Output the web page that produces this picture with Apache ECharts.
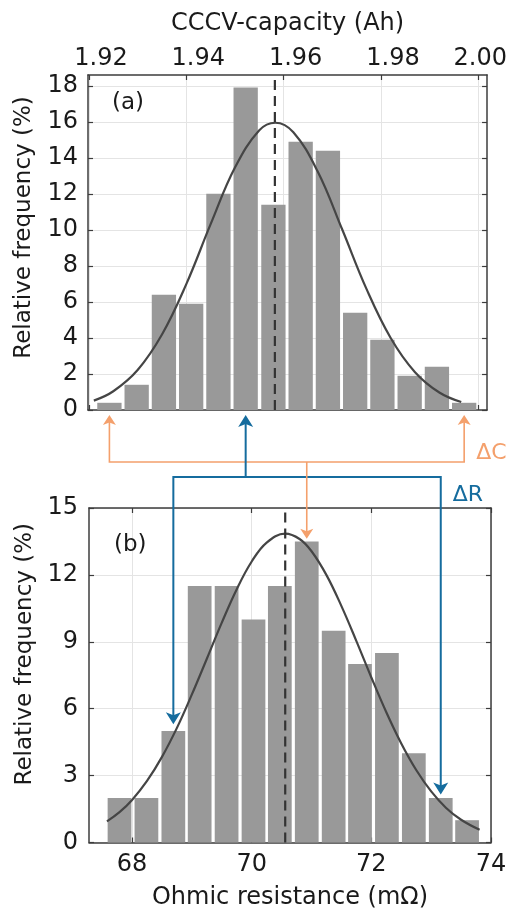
<!DOCTYPE html>
<html><head><meta charset="utf-8">
<script src="https://cdn.jsdelivr.net/npm/echarts@6/dist/echarts.min.js"></script>
<style>html,body{margin:0;padding:0;background:#fff}#c{width:510px;height:911px}</style>
</head><body><div id="c"></div>
<script>
// ---- panel (a): CCCV capacity ----
const capBinCenters = [1.9242, 1.9298, 1.9354, 1.9410, 1.9466, 1.9522, 1.9579, 1.9635, 1.9691, 1.9747, 1.9803, 1.9859, 1.9915, 1.9971];
const capFreq = [0.4, 1.4, 6.4, 5.9, 12.0, 17.9, 11.4, 14.9, 14.4, 5.4, 3.9, 1.9, 2.4, 0.4];
const capBinWidth = 0.00561;
const capFitX = [1.921, 1.925, 1.930, 1.935, 1.940, 1.945, 1.950, 1.955, 1.9583, 1.962, 1.967, 1.972, 1.977, 1.982, 1.987, 1.992, 1.9965];
const capFitY = [0.52, 1.04, 2.22, 4.19, 6.99, 10.32, 13.46, 15.53, 15.95, 15.42, 13.24, 10.05, 6.74, 4.00, 2.10, 0.97, 0.44];
const capMean = 1.9582;
const capXTicks = [1.92, 1.94, 1.96, 1.98, 2.00];
const capYTicks = [0, 2, 4, 6, 8, 10, 12, 14, 16, 18];

// ---- panel (b): ohmic resistance ----
const resBinCenters = [67.79, 68.24, 68.69, 69.13, 69.58, 70.03, 70.47, 70.92, 71.37, 71.81, 72.26, 72.71, 73.16, 73.60];
const resFreq = [2, 2, 5, 11.5, 11.5, 10, 11.5, 13.5, 9.5, 8, 8.5, 4, 2, 1];
const resBinWidth = 0.4468;
const resFitX = [67.58, 67.79, 68.0, 68.25, 68.5, 68.75, 69.0, 69.25, 69.5, 69.75, 70.0, 70.25, 70.56, 70.8, 71.0, 71.25, 71.5, 71.75, 72.0, 72.25, 72.5, 72.75, 73.0, 73.25, 73.5, 73.81];
const resFitY = [0.95, 1.36, 1.91, 2.76, 3.84, 5.14, 6.64, 8.24, 9.86, 11.36, 12.60, 13.45, 13.85, 13.61, 13.06, 11.99, 10.60, 9.03, 7.40, 5.84, 4.44, 3.25, 2.29, 1.55, 1.02, 0.57];
const resMean = 70.56;
const resXTicks = [68, 70, 72, 74];
const resYTicks = [0, 3, 6, 9, 12, 15];

// ---- annotation links (bin indices, arrow tip heights in %) ----
const dCSourceBins = [0, 13];   // capacity bins (orange arrows)
const dCTargetBin = 7;          // resistance bin
const dCTargetTip = 13.62;
const dRSourceBin = 5;          // capacity bin (blue arrow)
const dRTargetBins = [2, 12];   // resistance bins
const dRTargetTips = [5.3, 2.15];

const FONT = 'DejaVu Sans';
const TXT = '#1a1a1a';
const frame = {show: true, onZero: false, lineStyle: {color: '#3c3c3c', width: 1.5}};
const tickIn = (vals) => ({show: true, inside: true, length: 5, customValues: vals, lineStyle: {color: '#3c3c3c', width: 1.2}});
const gridLine = {show: true, lineStyle: {color: '#e4e4e4', width: 1}};
const lbl = (vals, extra) => Object.assign({customValues: vals, color: TXT, fontFamily: FONT, fontSize: 24}, extra || {});

function barItem(binW) {
  return function (params, api) {
    const xc = api.value(0), v = api.value(1);
    const p0 = api.coord([xc - binW / 2, v]);
    const p1 = api.coord([xc + binW / 2, 0]);
    const gap = 3;
    return {type: 'rect', shape: {x: p0[0] + gap / 2, y: p0[1], width: p1[0] - p0[0] - gap, height: p1[1] - p0[1]},
      style: {fill: '#999999'}};
  };
}

const capBars = capBinCenters.map((x, i) => [x, capFreq[i]]);
const resBars = resBinCenters.map((x, i) => [x, resFreq[i]]);
const capFit = capFitX.map((x, i) => [x, capFitY[i]]);
const resFit = resFitX.map((x, i) => [x, resFitY[i]]);

const capXMin = 1.9198, capXMax = 2.0018, capYMax = 18.6;
const resXMin = 67.28, resXMax = 74, resYMax = 15;

const option = {
  animation: false,
  backgroundColor: '#ffffff',
  grid: [
    {left: 88, top: 75, width: 401, height: 335},
    {left: 89, top: 508, width: 402, height: 334.5}
  ],
  xAxis: [
    {gridIndex: 0, type: 'value', position: 'top', min: capXMin, max: capXMax,
      name: 'CCCV-capacity (Ah)', nameLocation: 'middle', nameGap: 39,
      nameTextStyle: {fontFamily: FONT, fontSize: 24, color: TXT},
      axisLine: frame, axisTick: tickIn(capXTicks), splitLine: gridLine,
      axisLabel: lbl(capXTicks, {margin: 4,
        formatter: v => (v > 1.99 ? '{e|' : '{s|') + v.toFixed(2) + '}',
        rich: {s: {fontFamily: FONT, fontSize: 24, color: TXT, padding: [0, 0, 0, 24]},
               e: {fontFamily: FONT, fontSize: 24, color: TXT, padding: [0, 0, 0, 4]}}})},
    {gridIndex: 0, type: 'value', position: 'bottom', min: capXMin, max: capXMax,
      axisLine: frame, axisTick: tickIn(capXTicks), splitLine: {show: false}, axisLabel: {show: false}},
    {gridIndex: 1, type: 'value', position: 'bottom', min: resXMin, max: resXMax,
      name: 'Ohmic resistance (m\u03A9)', nameLocation: 'middle', nameGap: 43,
      nameTextStyle: {fontFamily: FONT, fontSize: 24, color: TXT},
      axisLine: frame, axisTick: tickIn(resXTicks), splitLine: gridLine,
      axisLabel: lbl(resXTicks, {margin: 10})},
    {gridIndex: 1, type: 'value', position: 'top', min: resXMin, max: resXMax,
      axisLine: frame, axisTick: tickIn(resXTicks), splitLine: {show: false}, axisLabel: {show: false}}
  ],
  yAxis: [
    {gridIndex: 0, type: 'value', position: 'left', min: 0, max: capYMax,
      name: 'Relative frequency (%)', nameLocation: 'middle', nameGap: 52,
      nameTextStyle: {fontFamily: FONT, fontSize: 23, color: TXT, padding: [0, 0, 0, 30]},
      axisLine: frame, axisTick: tickIn(capYTicks), splitLine: gridLine,
      axisLabel: lbl(capYTicks, {margin: 10})},
    {gridIndex: 0, type: 'value', position: 'right', min: 0, max: capYMax,
      axisLine: frame, axisTick: tickIn(capYTicks), splitLine: {show: false}, axisLabel: {show: false}},
    {gridIndex: 1, type: 'value', position: 'left', min: 0, max: resYMax,
      name: 'Relative frequency (%)', nameLocation: 'middle', nameGap: 52,
      nameTextStyle: {fontFamily: FONT, fontSize: 23, color: TXT, padding: [0, 0, 0, 42]},
      axisLine: frame, axisTick: tickIn(resYTicks), splitLine: gridLine,
      axisLabel: lbl(resYTicks, {margin: 11})},
    {gridIndex: 1, type: 'value', position: 'right', min: 0, max: resYMax,
      axisLine: frame, axisTick: tickIn(resYTicks), splitLine: {show: false}, axisLabel: {show: false}}
  ],
  series: [
    {type: 'custom', xAxisIndex: 0, yAxisIndex: 0, data: capBars, encode: {x: 0, y: 1}, renderItem: barItem(capBinWidth), z: 2},
    {type: 'line', xAxisIndex: 0, yAxisIndex: 0, data: capFit, smooth: 0.4, showSymbol: false,
      lineStyle: {color: '#454545', width: 2.2}, z: 3},
    {type: 'line', xAxisIndex: 0, yAxisIndex: 0, data: [[capMean, 0], [capMean, capYMax]], showSymbol: false,
      lineStyle: {color: '#333333', width: 2.2, type: [10, 6]}, z: 4},
    {type: 'custom', xAxisIndex: 2, yAxisIndex: 2, data: resBars, encode: {x: 0, y: 1}, renderItem: barItem(resBinWidth), z: 2},
    {type: 'line', xAxisIndex: 2, yAxisIndex: 2, data: resFit, smooth: 0.4, showSymbol: false,
      lineStyle: {color: '#454545', width: 2.2}, z: 3},
    {type: 'line', xAxisIndex: 2, yAxisIndex: 2, data: [[resMean, 0], [resMean, resYMax]], showSymbol: false,
      lineStyle: {color: '#333333', width: 2.2, type: [10, 6]}, z: 4}
  ]
};

const chart = echarts.init(document.getElementById('c'), null, {renderer: 'canvas'});
chart.setOption(option);

// ---- annotations: placed from data through the axes ----
const PA = pt => chart.convertToPixel({xAxisIndex: 0, yAxisIndex: 0}, pt);
const PB = pt => chart.convertToPixel({xAxisIndex: 2, yAxisIndex: 2}, pt);
const orange = '#f4a06c', blue = '#156c9e';
const axisA = PA([capMean, 0])[1];
const yO = axisA + 52, yB = axisA + 67;
const tipUp = axisA + 5;

function head(x, y, dir, w, h, color) {
  // dir = -1 points up, +1 points down; (x,y) is the tip
  return {type: 'polygon', shape: {points: [[x, y], [x - w / 2, y - dir * h], [x, y - dir * h * 0.75], [x + w / 2, y - dir * h]]},
    style: {fill: color}, z: 20};
}
function line(pts, color, w) {
  return {type: 'polyline', shape: {points: pts}, style: {stroke: color, lineWidth: w, fill: null}, z: 19};
}

const g = [];
// orange (delta C)
const xOL = PA([capBinCenters[dCSourceBins[0]], 0])[0];
const xOR = PA([capBinCenters[dCSourceBins[1]], 0])[0];
const xOD = PB([resBinCenters[dCTargetBin], 0])[0];
const yOD = PB([0, dCTargetTip])[1];
g.push(line([[xOL, tipUp + 6], [xOL, yO], [xOR, yO], [xOR, tipUp + 6]], orange, 1.6));
g.push(head(xOL, tipUp, -1, 13, 10, orange), head(xOR, tipUp, -1, 13, 10, orange));
// blue (delta R)
const xBU = PA([capBinCenters[dRSourceBin], 0])[0];
const xBL = PB([resBinCenters[dRTargetBins[0]], 0])[0];
const xBR = PB([resBinCenters[dRTargetBins[1]], 0])[0];
const yBL = PB([0, dRTargetTips[0]])[1];
const yBR = PB([0, dRTargetTips[1]])[1];
g.push(line([[xBU, yB], [xBU, tipUp + 8]], blue, 2));
g.push(line([[xBL, yBL - 8], [xBL, yB], [xBR, yB], [xBR, yBR - 8]], blue, 2));
g.push(head(xBU, tipUp, -1, 15, 12, blue), head(xBL, yBL, 1, 15, 12, blue), head(xBR, yBR, 1, 15, 12, blue));
// orange drop (over blue)
g.push(line([[xOD, yO], [xOD, yOD - 6]], orange, 1.6));
g.push(head(xOD, yOD, 1, 13, 10, orange));
// labels
g.push({type: 'text', x: xOR + 12, y: yO - 9, style: {text: '\u0394C', fill: orange, fontFamily: FONT, fontSize: 22, verticalAlign: 'middle'}, z: 21});
g.push({type: 'text', x: xBR + 12, y: yB + 18, style: {text: '\u0394R', fill: blue, fontFamily: FONT, fontSize: 22, verticalAlign: 'middle'}, z: 21});
// panel tags
const tagA = PA([capXMin, capYMax]);
const tagB = PB([resXMin, resYMax]);
g.push({type: 'text', x: tagA[0] + 24, y: tagA[1] + 28, style: {text: '(a)', fill: TXT, fontFamily: FONT, fontSize: 23, verticalAlign: 'middle'}, z: 21});
g.push({type: 'text', x: tagB[0] + 25, y: tagB[1] + 37, style: {text: '(b)', fill: TXT, fontFamily: FONT, fontSize: 23, verticalAlign: 'middle'}, z: 21});

chart.setOption({graphic: g});
</script>
</body></html>
